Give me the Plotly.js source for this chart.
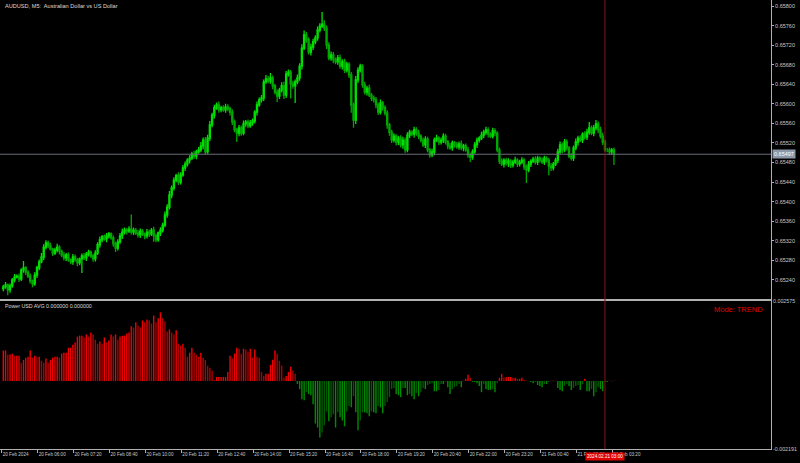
<!DOCTYPE html>
<html><head><meta charset="utf-8">
<script src="https://cdn.plot.ly/plotly-3.0.1.min.js"></script>
<style>html,body{margin:0;padding:0;background:#000;}#chart{width:800px;height:463px;}</style>
</head><body><div id="chart"></div>
<script>
// ---- data ----
const firstOpen = 0.65222;
const closes = [
0.65226,0.65230,0.65220,0.65228,0.65240,0.65246,0.65248,0.65242,0.65260,0.65265,
0.65256,0.65248,0.65238,0.65232,0.65250,0.65265,0.65277,0.65287,0.65307,0.65316,
0.65310,0.65303,0.65295,0.65301,0.65307,0.65299,0.65291,0.65285,0.65291,0.65281,
0.65277,0.65287,0.65281,0.65275,0.65283,0.65289,0.65285,0.65293,0.65297,0.65289,
0.65283,0.65295,0.65312,0.65322,0.65328,0.65324,0.65330,0.65334,0.65326,0.65314,
0.65305,0.65318,0.65330,0.65338,0.65342,0.65340,0.65344,0.65338,0.65342,0.65336,
0.65332,0.65340,0.65334,0.65330,0.65338,0.65334,0.65342,0.65330,0.65322,0.65336,
0.65342,0.65352,0.65373,0.65389,0.65414,0.65428,0.65444,0.65453,0.65440,0.65455,
0.65469,0.65477,0.65485,0.65489,0.65497,0.65493,0.65502,0.65506,0.65514,0.65526,
0.65502,0.65530,0.65557,0.65577,0.65592,0.65598,0.65588,0.65592,0.65588,0.65594,
0.65590,0.65583,0.65563,0.65547,0.65540,0.65551,0.65540,0.65559,0.65563,0.65555,
0.65561,0.65565,0.65583,0.65598,0.65608,0.65612,0.65645,0.65651,0.65647,0.65653,
0.65637,0.65624,0.65616,0.65628,0.65637,0.65618,0.65661,0.65665,0.65641,0.65637,
0.65645,0.65653,0.65677,0.65714,0.65741,0.65731,0.65706,0.65716,0.65727,0.65735,
0.65751,0.65759,0.65763,0.65755,0.65720,0.65694,0.65700,0.65690,0.65686,0.65694,
0.65677,0.65686,0.65669,0.65681,0.65659,0.65598,0.65567,0.65649,0.65669,0.65677,
0.65639,0.65624,0.65632,0.65618,0.65612,0.65608,0.65598,0.65583,0.65602,0.65592,
0.65581,0.65557,0.65542,0.65526,0.65534,0.65522,0.65530,0.65516,0.65526,0.65506,
0.65536,0.65542,0.65538,0.65547,0.65540,0.65534,0.65526,0.65516,0.65528,0.65506,
0.65496,0.65502,0.65526,0.65530,0.65522,0.65526,0.65534,0.65522,0.65514,0.65510,
0.65520,0.65516,0.65512,0.65518,0.65510,0.65514,0.65506,0.65496,0.65491,0.65502,
0.65516,0.65526,0.65530,0.65536,0.65542,0.65547,0.65538,0.65534,0.65545,0.65540,
0.65506,0.65483,0.65477,0.65485,0.65479,0.65483,0.65475,0.65481,0.65485,0.65477,
0.65481,0.65485,0.65471,0.65465,0.65477,0.65483,0.65487,0.65481,0.65489,0.65485,
0.65481,0.65489,0.65485,0.65473,0.65469,0.65477,0.65485,0.65502,0.65516,0.65506,
0.65522,0.65510,0.65493,0.65489,0.65510,0.65522,0.65530,0.65526,0.65538,0.65532,
0.65542,0.65551,0.65540,0.65551,0.65559,0.65547,0.65534,0.65522,0.65506,0.65506,
0.65502,0.65506,0.65497];
// wick lengths in points (1e-5)
const upWick = [
4,6,3,5,4,6,3,5,4,14, 3,4,5,3,6,4,5,8,6,5, 4,6,3,5,7,4,3,6,4,5, 3,6,5,4,3,5,6,4,5,3,
4,6,5,7,4,5,6,4,3,5, 4,5,6,7,5,4,6,30,5,4, 6,5,4,3,6,5,4,7,5,3, 6,5,7,6,8,5,6,4,7,5,
6,5,4,6,5,7,4,6,8,5, 6,7,8,5,6,5,7,4,5,6, 5,4,6,5,4,6,5,7,4,5, 6,5,4,7,5,6,5,8,6,10,
5,4,6,5,7,8,6,5,4,6, 5,7,6,8,9,6,5,7,6,5, 7,6,25,8,5,6,7,6,5,6, 7,5,6,5,4,6,5,8,6,5,
4,6,5,7,4,5,6,5,7,4, 5,6,4,5,6,4,5,6,7,5, 6,5,4,6,5,7,4,5,6,5, 4,6,5,7,4,5,6,5,4,6,
5,4,6,5,7,4,5,6,4,5, 6,5,4,7,5,6,5,4,6,5, 4,5,6,4,5,6,4,5,7,4, 5,6,4,5,6,4,5,6,5,4,
6,5,4,5,6,4,5,6,7,5, 6,5,4,6,5,7,5,6,4,6, 7,12,5,6,8,5,6,7,5,4, 5,4,5];
const dnWick = [
5,4,11,6,4,5,3,6,4,5, 6,4,5,7,4,6,5,3,6,4, 5,3,6,4,5,7,4,5,6,4, 5,6,4,7,5,29,4,6,5,4,
6,5,4,6,5,4,7,5,4,6, 8,5,4,6,5,7,4,5,6,4, 5,6,4,7,5,6,4,12,5,4, 6,5,4,6,5,7,5,4,6,5,
4,6,5,7,4,5,6,4,5,7, 5,4,6,5,7,4,6,5,4,6, 5,7,6,5,18,6,5,4,6,5, 4,6,5,7,4,5,6,4,5,6,
7,5,12,6,5,8,6,5,30,6, 35,5,6,7,4,6,5,7,6,5, 6,5,4,6,8,5,6,7,5,6, 5,7,6,5,6,16,16,8,6,5,
6,5,7,4,6,5,7,6,5,6, 5,8,7,6,5,7,6,5,8,6, 5,6,4,7,5,6,5,4,6,5, 6,5,7,4,6,5,6,5,7,4,
6,5,4,6,5,7,4,6,10,5, 4,6,5,4,6,5,7,4,5,6, 5,6,4,7,5,8,6,5,4,6, 5,4,6,27,5,6,4,5,6,5,
4,6,5,19,6,5,4,6,5,7, 5,6,4,5,6,5,7,4,6,5, 6,5,4,6,5,7,5,6,4,5, 6,5,22];
// Power USD AVG histogram, units of 1e-5
const power = [
98,98,85,85,88,81,81,81,59,68, 75,78,98,75,81,78,78,65,59,72,
59,68,75,78,78,75,88,91,91,107, 107,117,124,143,146,146,140,150,143,156,
150,133,120,127,120,140,124,130,150,143, 150,133,143,146,146,153,156,176,172,189,
179,172,195,189,198,195,185,211,189,202, 221,202,192,159,166,156,150,163,120,114,
120,107,78,91,107,91,85,78,91,75, 68,49,42,33,3,13,13,13,13,13,
29,81,72,88,107,104,88,104,101,94, 104,75,101,78,75,29,16,23,23,52,
68,98,88,65,49,10,16,29,46,33, 23,-10,-26,-59,-62,-36,-42,-46,-75,-137,
-150,-182,-166,-143,-98,-130,-117,-107,-150,-101, -117,-127,-146,-98,-81,-85,-49,-101,-159,-127,
-101,-101,-104,-114,-98,-101,-104,-81,-85,-104, -81,-68,-52,-26,-23,-42,-46,-52,-23,-23,
-46,-42,-49,-59,-39,-49,-36,-23,-26,-13, -10,-7,-33,-33,-29,-10,-10,-3,-20,-42,
-26,-20,-16,-10,-20,1,7,20,10,-3, -3,-7,-16,-36,-10,-26,-29,-29,-26,-36,
-7,10,23,10,13,13,13,10,10,7, 7,10,3,1,0,-3,-7,-3,-13,-16,
-20,-10,-10,-3,1,1,0,-23,-29,-33, -16,-10,-16,-29,-23,-16,-13,-29,-10,7,
-33,-33,-26,-49,-36,-20,-26,-33,-3,-3, 1,-1,1];
const timeLabels = ['20 Feb 2024','20 Feb 06:00','20 Feb 07:20','20 Feb 08:40','20 Feb 10:00',
'20 Feb 11:20','20 Feb 12:40','20 Feb 14:00','20 Feb 15:20','20 Feb 16:40','20 Feb 18:00',
'20 Feb 19:20','20 Feb 20:40','20 Feb 22:00','20 Feb 23:20','21 Feb 00:40','21 Feb 02:00','21 Feb 03:20'];
const barsPerLabel = 16;
const priceTicks = [0.65240,0.65280,0.65320,0.65360,0.65400,0.65440,0.65480,0.65520,0.65560,0.65600,0.65640,0.65680,0.65720,0.65760,0.65800];
const priceRange = [0.652011, 0.658123];
const powerRange = [-0.002191, 0.002575];
const powerTickText = ['-0.002191','0.002575'];
const bidPrice = 0.65497;
const crossBar = 268;
const crossLabel = '2024.02.21 03:00';
const chartTitle = 'AUDUSD, M5:\u00a0 Australian Dollar vs US Dollar';
const indTitle = 'Power USD AVG 0.000000 0.000000';
const modeText = 'Mode: TREND';

// ---- build ----
const idx = closes.map((_, i) => i);
const opens = closes.map((c, i) => i === 0 ? firstOpen : closes[i - 1]);
const highs = closes.map((c, i) => Math.max(c, opens[i]) + upWick[i] * 1e-5);
const lows = closes.map((c, i) => Math.min(c, opens[i]) - dnWick[i] * 1e-5);
const pw = power.map(v => v * 1e-5);
// colour class of each histogram bar
const classOf = (v, i) => {
  const prev = i ? pw[i - 1] : v;
  if (v >= 0) return v >= prev ? 0 : 1;
  return v <= prev ? 2 : 3;
};
const classColors = ['#f00000', '#b00000', '#008c00', '#005a00'];
const histTraces = classColors.map((col, k) => {
  const xs = [], ys = [];
  pw.forEach((v, i) => {
    if (classOf(v, i) === k) { xs.push(i, i, null); ys.push(0, v, null); }
  });
  return {
    type: 'scatter', mode: 'lines', x: xs, y: ys, xaxis: 'x2', yaxis: 'y2',
    line: { color: col, width: 1.4 }, hoverinfo: 'skip', showlegend: false, connectgaps: false
  };
});
const FONT = 'Liberation Sans, Arial, sans-serif';

const traces = [
  {
    type: 'candlestick', x: idx, open: opens, high: highs, low: lows, close: closes,
    xaxis: 'x', yaxis: 'y', hoverinfo: 'skip', whiskerwidth: 0,
    increasing: { line: { color: '#00e000', width: 1.3 }, fillcolor: '#66ff66' },
    decreasing: { line: { color: '#00a800', width: 1.3 }, fillcolor: '#007800' },
    showlegend: false
  }
].concat(histTraces);

const lineCol = '#b0b0b0';
const layout = {
  width: 800, height: 463,
  margin: { l: 0, r: 29, t: 0, b: 14 },
  paper_bgcolor: '#000000', plot_bgcolor: '#000000',
  font: { family: FONT, color: '#c8c8c8', size: 6 },
  xaxis: {
    domain: [0, 1], anchor: 'y', range: [-1.47, 341.96], showticklabels: false,
    showgrid: false, zeroline: false, showline: true, mirror: true, linecolor: lineCol, linewidth: 1,
    rangeslider: { visible: false }, ticks: ''
  },
  yaxis: {
    domain: [0.33408, 1], anchor: 'x', side: 'right', range: priceRange,
    tickvals: priceTicks, tickformat: '.5f', ticks: 'outside', ticklen: 2, tickcolor: lineCol,
    tickfont: { size: 5.5, color: '#c8c8c8', family: FONT },
    showgrid: false, zeroline: false, showline: true, mirror: true, linecolor: lineCol, linewidth: 1
  },
  xaxis2: {
    domain: [0, 1], anchor: 'y2', matches: 'x', range: [-1.47, 341.96],
    tickvals: timeLabels.map((_, k) => k * barsPerLabel - 0.7), ticktext: timeLabels,
    tickangle: 0, automargin: false,
    ticks: 'outside', ticklen: 3, tickcolor: lineCol, ticklabelposition: 'outside right',
    tickfont: { size: 4.6, color: '#c8c8c8', family: FONT },
    showgrid: false, zeroline: false, showline: true, mirror: true, linecolor: lineCol, linewidth: 1
  },
  yaxis2: {
    domain: [0, 0.3296], anchor: 'x2', side: 'right', range: powerRange,
    tickvals: powerRange, ticktext: powerTickText, ticks: '',
    tickfont: { size: 5.3, color: '#c8c8c8', family: FONT },
    showgrid: false, zeroline: false, showline: true, mirror: true, linecolor: lineCol, linewidth: 1
  },
  shapes: [
    { type: 'line', xref: 'x domain', x0: 0, x1: 1, yref: 'y', y0: bidPrice, y1: bidPrice,
      line: { color: '#6a7078', width: 1 } },
    { type: 'line', xref: 'x', x0: crossBar, x1: crossBar, yref: 'paper', y0: 0, y1: 1,
      line: { color: '#8a1414', width: 1 } }
  ],
  annotations: [
    { xref: 'paper', yref: 'paper', x: 0.004, y: 1, xanchor: 'left', yanchor: 'top', yshift: -1,
      text: chartTitle, showarrow: false, font: { size: 5.6, color: '#dcdcdc', family: FONT } },
    { xref: 'paper', yref: 'paper', x: 0.004, y: 0.3185, xanchor: 'left', yanchor: 'middle',
      text: indTitle, showarrow: false, font: { size: 5.3, color: '#dcdcdc', family: FONT } },
    { xref: 'paper', yref: 'paper', x: 0.9922, y: 0.3118, xanchor: 'right', yanchor: 'middle',
      text: modeText, showarrow: false, font: { size: 7.5, color: '#e00000', family: FONT } },
    { xref: 'paper', yref: 'y', x: 1, y: bidPrice, xanchor: 'left', yanchor: 'middle', xshift: 1,
      text: bidPrice.toFixed(5), showarrow: false, bgcolor: '#8c98aa', borderpad: 1,
      font: { size: 5.5, color: '#ffffff', family: FONT } },
    { xref: 'x', yref: 'paper', x: crossBar, y: -0.0167, xanchor: 'center', yanchor: 'middle',
      text: crossLabel, showarrow: false, bgcolor: '#e00000', borderpad: 1,
      font: { size: 4.6, color: '#ffffff', family: FONT } }
  ]
};

Plotly.newPlot('chart', traces, layout, { staticPlot: true, displayModeBar: false });
</script>
</body></html>
